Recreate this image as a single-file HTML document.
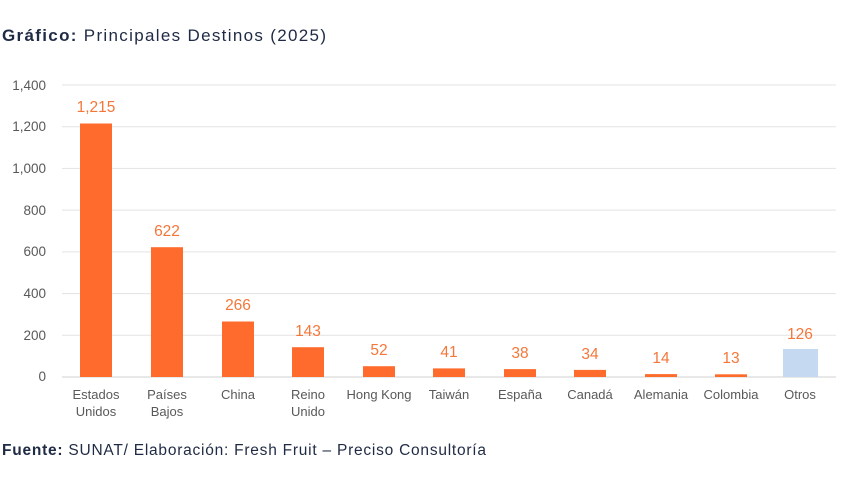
<!DOCTYPE html>
<html><head><meta charset="utf-8"><style>
body{margin:0;background:#fff;width:850px;height:478px;overflow:hidden;font-family:"Liberation Sans",sans-serif;}
</style></head><body>
<svg width="850" height="478" xmlns="http://www.w3.org/2000/svg" font-family="Liberation Sans, sans-serif">
<text x="2" y="41" font-size="17" fill="#1f2a44" textLength="324" lengthAdjust="spacing"><tspan font-weight="bold">Gráfico:</tspan> Principales Destinos (2025)</text>
<g stroke="#e3e3e3" stroke-width="1">
<line x1="62" x2="836" y1="85" y2="85"/><line x1="62" x2="836" y1="126.7" y2="126.7"/>
<line x1="62" x2="836" y1="168.4" y2="168.4"/><line x1="62" x2="836" y1="210.1" y2="210.1"/>
<line x1="62" x2="836" y1="251.9" y2="251.9"/><line x1="62" x2="836" y1="293.6" y2="293.6"/>
<line x1="62" x2="836" y1="335.3" y2="335.3"/><line x1="62" x2="836" y1="377" y2="377" stroke="#d0d0d0"/>
</g>
<g font-size="13.5" fill="#595959" text-anchor="end">
<text x="46" y="90">1,400</text><text x="46" y="131">1,200</text><text x="46" y="173">1,000</text>
<text x="46" y="215">800</text><text x="46" y="256">600</text><text x="46" y="298">400</text>
<text x="46" y="340">200</text><text x="46" y="381">0</text>
</g>
<g fill="#ff6b2c">
<rect x="80" y="123.5" width="32" height="253.5"/>
<rect x="151" y="247.2" width="32" height="129.8"/>
<rect x="222" y="321.5" width="32" height="55.5"/>
<rect x="292" y="347.2" width="32" height="29.8"/>
<rect x="363" y="366.2" width="32" height="10.8"/>
<rect x="433" y="368.4" width="32" height="8.6"/>
<rect x="504" y="369.1" width="32" height="7.9"/>
<rect x="574" y="369.9" width="32" height="7.1"/>
<rect x="645" y="374.1" width="32" height="2.9"/>
<rect x="715" y="374.3" width="32" height="2.7"/>
</g>
<rect x="783" y="349" width="35" height="28" fill="#c5d9f1"/>
<g font-size="15.5" fill="#f4773a" text-anchor="middle">
<text x="96" y="112">1,215</text><text x="167" y="236">622</text><text x="238" y="310">266</text>
<text x="308" y="336">143</text><text x="379" y="355">52</text><text x="449" y="357">41</text>
<text x="520" y="358">38</text><text x="590" y="359">34</text><text x="661" y="363">14</text>
<text x="731" y="363">13</text><text x="800" y="339">126</text>
</g>
<g font-size="13" fill="#595959" text-anchor="middle">
<text x="96" y="399">Estados</text><text x="96" y="416">Unidos</text>
<text x="167" y="399">Países</text><text x="167" y="416">Bajos</text>
<text x="238" y="399">China</text>
<text x="308" y="399">Reino</text><text x="308" y="416">Unido</text>
<text x="379" y="399">Hong Kong</text><text x="449" y="399">Taiwán</text>
<text x="520" y="399">España</text><text x="590" y="399">Canadá</text>
<text x="661" y="399">Alemania</text><text x="731" y="399">Colombia</text>
<text x="800" y="399">Otros</text>
</g>
<text x="2" y="455" font-size="15.5" fill="#1f2a44" textLength="484" lengthAdjust="spacing"><tspan font-weight="bold">Fuente:</tspan> SUNAT/ Elaboración: Fresh Fruit – Preciso Consultoría</text>
</svg>
</body></html>
